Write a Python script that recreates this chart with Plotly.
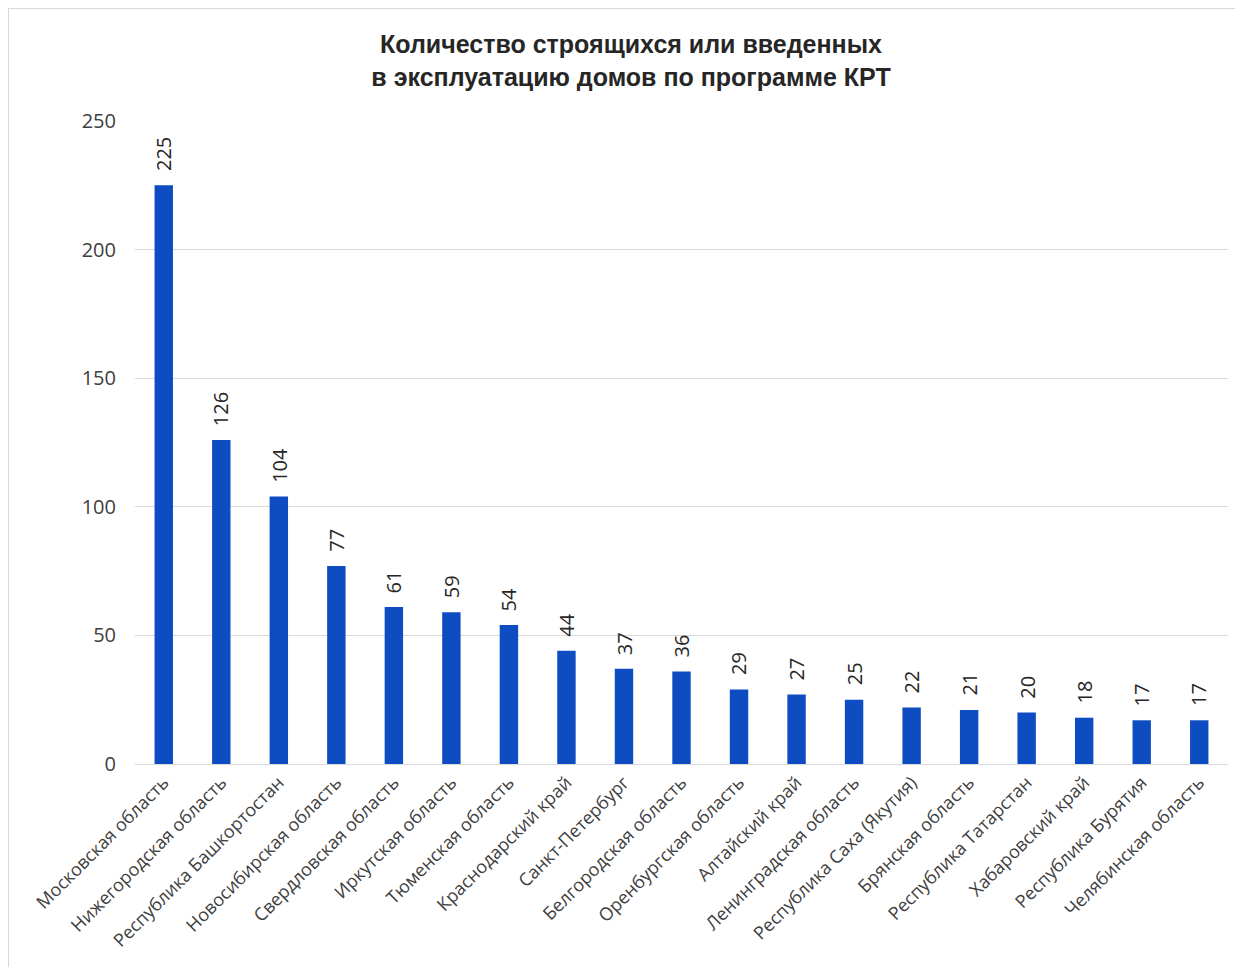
import plotly.graph_objects as go

categories = [
    "Московская область", "Нижегородская область", "Республика Башкортостан",
    "Новосибирская область", "Свердловская область", "Иркутская область",
    "Тюменская область", "Краснодарский край", "Санкт-Петербург",
    "Белгородская область", "Оренбургская область", "Алтайский край",
    "Ленинградская область", "Республика Саха (Якутия)", "Брянская область",
    "Республика Татарстан", "Хабаровский край", "Республика Бурятия",
    "Челябинская область",
]
values = [225, 126, 104, 77, 61, 59, 54, 44, 37, 36, 29, 27, 25, 22, 21, 20, 18, 17, 17]
y_ticks = [0, 50, 100, 150, 200, 250]

# page has an 8px body margin, so the figure starts at (8, 8)
W, H = 1235, 959
L, R, T, B = 127, 15, 113, 203

fig = go.Figure()
fig.add_trace(go.Bar(
    x=categories, y=values,
    marker=dict(color="#0E4DC1", line=dict(width=0)),
    hoverinfo="x+y",
))

for c, v in zip(categories, values):
    fig.add_annotation(
        x=c, y=v, xref="x", yref="y",
        text=str(v), textangle=-90, showarrow=False,
        xanchor="center", yanchor="bottom", yshift=12,
        font=dict(family="Open Sans, Noto Sans, sans-serif", size=20, color="#262626"),
    )

pw = W - L - R
ph = H - T - B
def px(xp):
    return (xp - L) / pw
def py(yp):
    return (H - B - yp) / ph

# outer chart border (top and left edges visible)
fig.add_shape(type="line", xref="paper", yref="paper",
              x0=px(0), x1=px(W), y0=py(0.5), y1=py(0.5),
              line=dict(color="#D9D9D9", width=1))
fig.add_shape(type="line", xref="paper", yref="paper",
              x0=px(0.5), x1=px(0.5), y0=py(0), y1=py(H),
              line=dict(color="#D9D9D9", width=1))

fig.update_layout(
    width=W, height=H,
    margin=dict(l=L, r=R, t=T, b=B),
    paper_bgcolor="white", plot_bgcolor="white",
    bargap=0.68,
    showlegend=False,
    title=dict(
        text="<b>Количество строящихся или введенных<br>в эксплуатацию домов по программе КРТ</b>",
        x=(631 - 8) / W, xref="container", xanchor="center",
        y=1 - 45 / H, yref="container", yanchor="middle",
        font=dict(family="Liberation Sans, Arial, sans-serif", size=25, color="#262626"),
    ),
    xaxis=dict(
        tickangle=-45,
        tickfont=dict(family="Open Sans, Noto Sans, sans-serif", size=18, color="#404040"),
        showgrid=False, showline=True, linecolor="#D9D9D9", linewidth=1,
        ticks="", automargin=False,
    ),
    yaxis=dict(
        range=[0, 250], tickvals=y_ticks,
        tickfont=dict(family="Open Sans, Noto Sans, sans-serif", size=20, color="#404040"),
        showgrid=True, gridcolor="#D9D9D9", gridwidth=1,
        zeroline=False, showline=False, ticks="", ticklabelstandoff=18,
        automargin=False,
    ),
)

fig.write_html("out.html")
